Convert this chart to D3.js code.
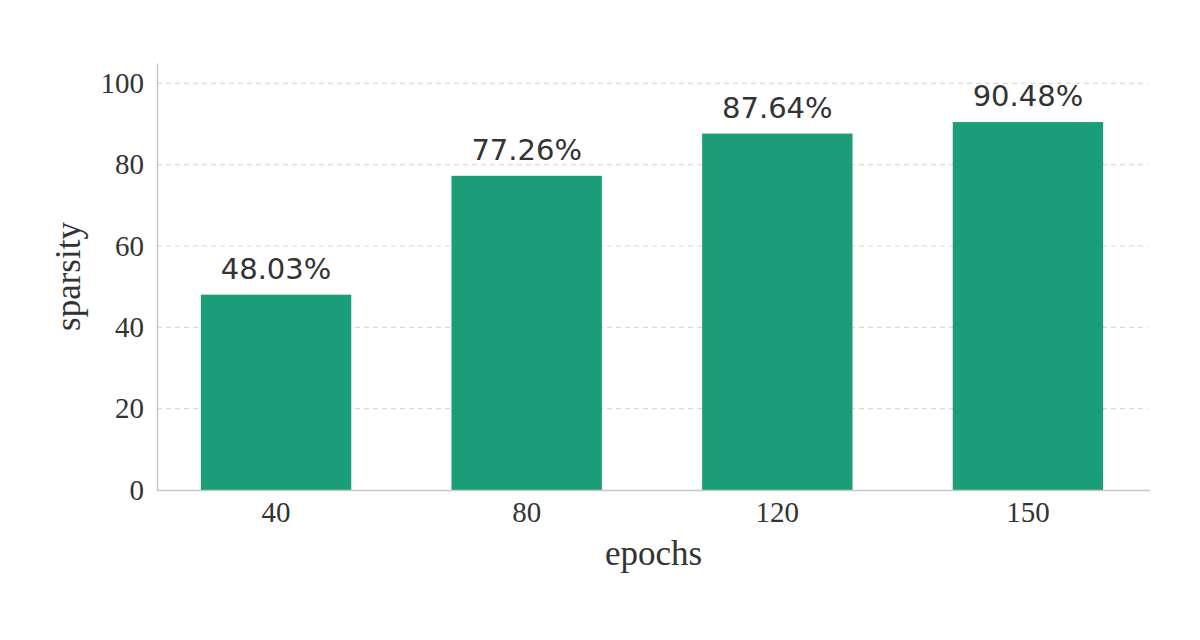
<!DOCTYPE html>
<html>
<head>
<meta charset="utf-8">
<script src="https://cdn.jsdelivr.net/npm/d3@7"></script>
<style>
  body { margin: 0; background: #fff; }
</style>
</head>
<body>
<div id="chart"></div>
<script>
// data
const epochs = ["40", "80", "120", "150"];
const sparsity = [48.03, 77.26, 87.64, 90.48];
const yTicks = [0, 20, 40, 60, 80, 100];

const W = 1200, H = 640;
const margin = {top: 63, right: 50, bottom: 150, left: 157};
const width = W - margin.left - margin.right,
      height = H - margin.top - margin.bottom;

const data = epochs.map((e, i) => ({epoch: e, value: sparsity[i]}));

const x = d3.scaleBand().domain(epochs).range([0, width - 3])
  .paddingInner(0.4).paddingOuter(0.175);
const y = d3.scaleLinear().domain([0, 105]).range([height, 0]);

const svg = d3.select("#chart").append("svg")
  .attr("width", W).attr("height", H)
  .append("g")
  .attr("transform", "translate(" + margin.left + "," + margin.top + ")");

// grid
svg.append("g")
  .selectAll("line")
  .data(yTicks.filter(d => d > 0))
  .enter().append("line")
  .attr("x1", 0).attr("x2", width - 2)
  .attr("y1", d => y(d)).attr("y2", d => y(d))
  .style("stroke", "#d9d9d9")
  .style("stroke-width", 1.2)
  .style("stroke-dasharray", "5,4");

// bars
svg.selectAll("rect.bar")
  .data(data)
  .enter().append("rect")
  .attr("class", "bar")
  .attr("x", d => x(d.epoch))
  .attr("width", x.bandwidth())
  .attr("y", d => y(d.value))
  .attr("height", d => height - y(d.value))
  .style("fill", "#1b9e77");

// value labels
svg.selectAll("text.val")
  .data(data)
  .enter().append("text")
  .attr("class", "val")
  .attr("x", d => x(d.epoch) + x.bandwidth() / 2)
  .attr("y", d => y(d.value) - 16)
  .attr("text-anchor", "middle")
  .style("font-family", "DejaVu Sans")
  .style("font-size", "29px")
  .style("fill", "#333")
  .text(d => d.value.toFixed(2) + "%");

// axes
let xAxis = svg.append("g")
  .attr("transform", "translate(0," + height + ")")
  .call(d3.axisBottom(x).tickSize(0).tickPadding(11));
xAxis.select(".domain").attr("d", "M0,0.5H" + width)
  .style("stroke", "#c8c8c8").style("stroke-width", 1.5);
xAxis.selectAll("text")
  .style("font-family", "Liberation Serif")
  .style("font-size", "29px")
  .style("fill", "#333");

let yAxis = svg.append("g")
  .call(d3.axisLeft(y).tickValues(yTicks).tickSize(0).tickPadding(13));
yAxis.select(".domain").style("stroke", "#c8c8c8").style("stroke-width", 1.5);
yAxis.selectAll("text")
  .style("font-family", "Liberation Serif")
  .style("font-size", "29px")
  .style("fill", "#333");

// axis titles
svg.append("text")
  .attr("x", width / 2)
  .attr("y", height + 75)
  .attr("text-anchor", "middle")
  .style("font-family", "Liberation Serif")
  .style("font-size", "35px")
  .style("fill", "#333")
  .text("epochs");

svg.append("text")
  .attr("transform", "translate(" + (-77) + "," + (height / 2) + ") rotate(-90)")
  .attr("text-anchor", "middle")
  .style("font-family", "Liberation Serif")
  .style("font-size", "35px")
  .style("fill", "#333")
  .text("sparsity");
</script>
</body>
</html>
